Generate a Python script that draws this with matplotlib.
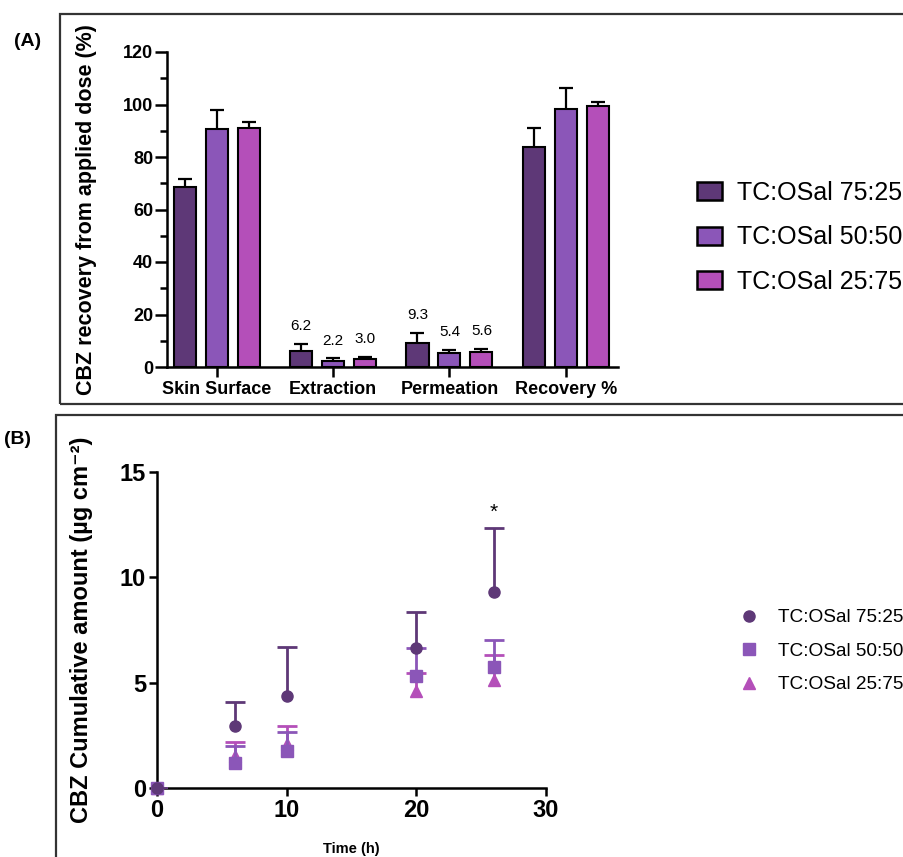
import numpy as np
import matplotlib
matplotlib.use('Agg')
import matplotlib.pyplot as plt
from matplotlib.patches import Rectangle, Patch
from matplotlib.lines import Line2D

plt.rcParams['font.family'] = ['Liberation Sans', 'DejaVu Sans']

# ---- panel A data ----
groups = ['Skin Surface', 'Extraction', 'Permeation', 'Recovery %']
series = ['TC:OSal 75:25', 'TC:OSal 50:50', 'TC:OSal 25:75']
mean_7525 = [68.5, 6.2, 9.3, 84.0]
mean_5050 = [90.8, 2.2, 5.4, 98.3]
mean_2575 = [90.9, 3.0, 5.6, 99.6]
sd_7525 = [3.1, 2.6, 3.8, 7.2]
sd_5050 = [7.2, 1.1, 1.1, 7.9]
sd_2575 = [2.3, 0.9, 1.4, 1.5]
shown_labels = {1: ['6.2', '2.2', '3.0'], 2: ['9.3', '5.4', '5.6']}

# ---- panel B data ----
time_h = [0, 6, 10, 20, 26]
cum_7525 = [0, 2.93, 4.38, 6.63, 9.32]
cum_5050 = [0, 1.19, 1.77, 5.33, 5.73]
cum_2575 = [0, 1.5, 2.1, 4.6, 5.14]
err_7525 = [0, 1.14, 2.31, 1.71, 3.02]
err_5050 = [0, 0.81, 0.89, 1.3, 1.31]
err_2575 = [0, 0.7, 0.86, 0.86, 1.16]

colors = ['#5e3877', '#8b56b8', '#b44fb9']

W, H = 904, 857
fig = plt.figure(figsize=(W / 100, H / 100), dpi=100)


def px(l, t, r, b):
    return [l / W, 1 - b / H, (r - l) / W, (b - t) / H]


def upper_errorbar(axis, xs, ys, err, **kw):
    # only the upper half of the error bar, no cap at the mean
    line, caps, bars = axis.errorbar(xs, ys, yerr=[np.zeros(len(err)), err], **kw)
    caps[0].set_visible(False)
    return line


# panel frames
fig.patches.append(Rectangle((60 / W, 1 - 404 / H), 1.0, 390 / H, transform=fig.transFigure,
                             fill=False, ec='#333333', lw=1.6))
fig.patches.append(Rectangle((56 / W, -0.05), 1.0, 1 - 415 / H + 0.05, transform=fig.transFigure,
                             fill=False, ec='#333333', lw=1.6))
fig.text(28 / W, 1 - 42 / H, '(A)', fontsize=14, fontweight='bold', ha='center', va='center')
fig.text(18 / W, 1 - 440 / H, '(B)', fontsize=14, fontweight='bold', ha='center', va='center')

# ---------------- panel A ----------------
ax = fig.add_axes(px(167, 52, 618, 367))
x = np.arange(len(groups))
w = 0.19
off = 0.275
means = [mean_7525, mean_5050, mean_2575]
sds = [sd_7525, sd_5050, sd_2575]
for i in range(3):
    xi = x + (i - 1) * off
    ax.bar(xi, means[i], w, color=colors[i], edgecolor='black', linewidth=1.5, zorder=3,
           label=series[i])
    upper_errorbar(ax, xi, means[i], sds[i], fmt='none', ecolor='black',
                   elinewidth=1.6, capsize=5, capthick=1.6, zorder=2)
    for g, labs in shown_labels.items():
        top = means[i][g] + sds[i][g]
        ax.text(xi[g], top + 4.0, labs[i], ha='center', va='bottom', fontsize=11)

ax.set_xlim(-0.43, 3.45)
ax.set_ylim(0, 120)
ax.set_yticks(np.arange(0, 121, 20))
ax.set_yticks(np.arange(10, 120, 20), minor=True)
ax.set_xticks(x)
ax.set_xticklabels(groups, fontsize=13, fontweight='bold')
for t in ax.get_yticklabels():
    t.set_fontsize(13)
    t.set_fontweight('bold')
for s in ['top', 'right']:
    ax.spines[s].set_visible(False)
for s in ['left', 'bottom']:
    ax.spines[s].set_linewidth(1.8)
ax.tick_params(axis='y', which='major', length=9, width=1.8, pad=1)
ax.tick_params(axis='y', which='minor', length=5, width=1.8)
ax.tick_params(axis='x', which='major', length=7, width=1.8, pad=3)
ax.set_ylabel('CBZ recovery from applied dose (%)', fontsize=15.5, fontweight='bold')
ax.yaxis.set_label_coords(-(167 - 97) / 451, 0.5)

handles_a = [Patch(facecolor=c, edgecolor='black', linewidth=1.8) for c in colors]
fig.legend(handles_a, series, loc='upper left', bbox_to_anchor=(697 / W, 1 - 181 / H),
           frameon=False, fontsize=18, handlelength=1.0, handleheight=0.72,
           handletextpad=0.6, labelspacing=0.82, borderpad=0, borderaxespad=0)

# ---------------- panel B ----------------
bx = fig.add_axes(px(157, 472, 546, 788))
cums = [cum_7525, cum_5050, cum_2575]
errs = [err_7525, err_5050, err_2575]
markers = ['o', 's', '^']
order = [2, 1, 0]
for i in order:
    ln = upper_errorbar(bx, time_h, cums[i], errs[i], fmt=markers[i], color=colors[i],
                        ms=8, elinewidth=2, capsize=7, capthick=2, zorder=3 + (2 - i))
    ln.set_clip_on(False)
bx.text(26, 13.1, '*', ha='center', va='center', fontsize=15)
bx.set_xlim(0, 30)
bx.set_ylim(0, 15)
bx.set_xticks([0, 10, 20, 30])
bx.set_yticks([0, 5, 10, 15])
for t in bx.get_xticklabels() + bx.get_yticklabels():
    t.set_fontsize(17)
    t.set_fontweight('bold')
for s in ['top', 'right']:
    bx.spines[s].set_visible(False)
for s in ['left', 'bottom']:
    bx.spines[s].set_linewidth(1.8)
bx.tick_params(length=6, width=1.8, pad=2)
bx.set_xlabel('Time (h)', fontsize=10.5, fontweight='bold')
bx.xaxis.set_label_coords(0.5, -(842 - 788) / 316)
bx.set_ylabel('CBZ Cumulative amount (\u00b5g cm\u207b\u00b2)', fontsize=17, fontweight='bold')
bx.yaxis.set_label_coords(-(157 - 93) / 389, 0.5)

handles_b = [Line2D([], [], ls='none', marker=m, color=c, ms=8) for m, c in zip(markers, colors)]
fig.legend(handles_b, series, loc='upper left', bbox_to_anchor=(738 / W, 1 - 609 / H),
           frameon=False, fontsize=13.7, handlelength=1.2, handletextpad=0.9,
           labelspacing=0.85, borderpad=0, borderaxespad=0)

fig.savefig('out.png', dpi=100)
